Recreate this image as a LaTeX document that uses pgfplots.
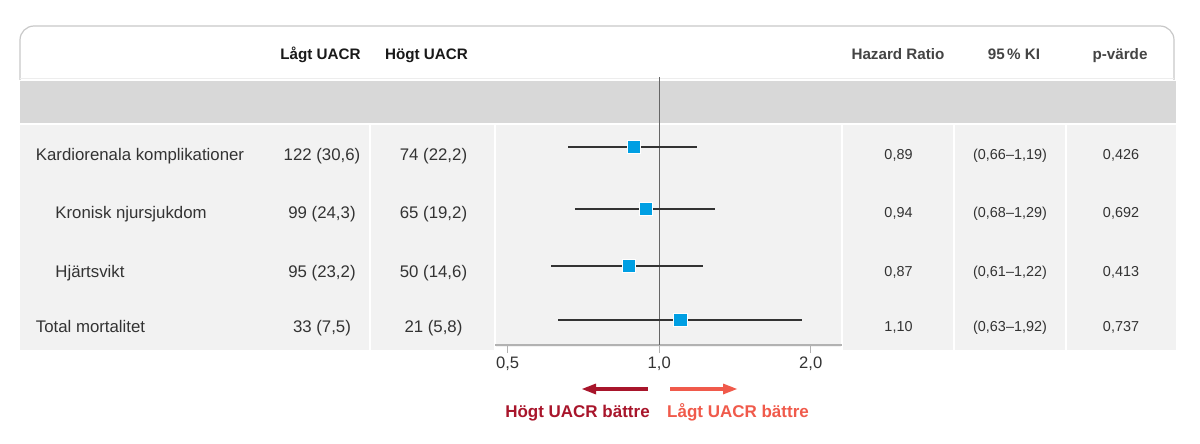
\documentclass[border=0pt]{standalone}
\usepackage{pgfplots}
\pgfplotsset{compat=1.18}
\usepackage{fontspec}
\setmainfont{Liberation Sans}
\definecolor{band}{HTML}{D8D8D8}
\definecolor{bodybg}{HTML}{F2F2F2}
\definecolor{hdrline}{HTML}{C8C8C8}
\definecolor{txt}{HTML}{333333}
\definecolor{hdrtxt}{HTML}{444444}
\definecolor{mk}{HTML}{009FE3}
\definecolor{darkred}{HTML}{A8152B}
\definecolor{salmon}{HTML}{F05A4B}
\begin{document}
\begin{tikzpicture}
\begin{scope}[x=0.5pt,y=-0.5pt]
\useasboundingbox (0,0) rectangle (1200,444);
\fill[band] (20,81) rectangle (1176,123);
\fill[bodybg] (20,125) rectangle (1176,350);
\foreach \xx in {370,495,842,954,1066} \fill[white] (\xx-1,125) rectangle (\xx+1,350);
\fill[white] (495,346.5) rectangle (842,351);
\draw[hdrline, line width=0.6pt, rounded corners=7pt] (20,80) -- (20,26) -- (1174,26) -- (1174,80);
\draw[black!7, line width=0.5pt] (20,79) -- (1174,79);
\end{scope}

\begin{axis}[
  at={(247.5pt,-172.5pt)}, anchor=south west,
  scale only axis, width=173.5pt, height=134pt,
  xmode=log, log basis x=2,
  xmin=0.472, xmax=2.307, ymin=-345, ymax=-77,
  axis x line*=bottom, hide y axis,
  x axis line style={draw=black!30, line width=0.6pt},
  xtick={0.5,1,2}, xticklabels={{0,5},{1,0},{2,0}},
  tick align=outside, major tick length=4pt,
  tick style={draw=black!30, line width=0.6pt},
  minor tick num=0,
  xticklabel style={font=\fontsize{8.3}{10}\selectfont, text=txt, anchor=base, yshift=-8pt},
  clip=false,
]
\addplot[draw=black!60, line width=0.55pt] coordinates {(1,-77) (1,-345)};
\addplot[draw=txt, line width=0.65pt] coordinates {(0.66,-147) (1.19,-147)};
\addplot[draw=txt, line width=0.65pt] coordinates {(0.68,-209) (1.29,-209)};
\addplot[draw=txt, line width=0.65pt] coordinates {(0.61,-266) (1.22,-266)};
\addplot[draw=txt, line width=0.65pt] coordinates {(0.63,-320) (1.92,-320)};
\addplot[only marks, mark=square*, mark size=3.4pt, mark options={fill=mk, draw=white, line width=0.3pt}]
  coordinates {(0.89,-147) (0.94,-209) (0.87,-266) (1.10,-320)};
\end{axis}

\begin{scope}[x=0.5pt,y=-0.5pt]
% header
\begin{scope}[every node/.style={font=\fontsize{7.6}{9}\selectfont\bfseries, anchor=base, inner sep=0pt}]
\node[text=black!90] at (320.5,60) {Lågt UACR};
\node[text=black!90] at (426.5,60) {Högt UACR};
\node[text=hdrtxt] at (898,60) {Hazard Ratio};
\node[text=hdrtxt] at (1014,60) {95\,\% KI};
\node[text=hdrtxt] at (1120,60) {p-värde};
\end{scope}
% body left
\begin{scope}[every node/.style={font=\fontsize{8.4}{10}\selectfont, text=txt, inner sep=0pt}]
\node[anchor=base west] at (35.5,160.7) {Kardiorenala komplikationer};
\node[anchor=base west] at (55,219) {Kronisk njursjukdom};
\node[anchor=base west] at (55,277) {Hjärtsvikt};
\node[anchor=base west] at (35.5,332) {Total mortalitet};
\node[anchor=base] at (322,160.7) {122 (30,6)};
\node[anchor=base] at (322,219) {99 (24,3)};
\node[anchor=base] at (322,277) {95 (23,2)};
\node[anchor=base] at (322,332) {33 (7,5)};
\node[anchor=base] at (433.5,160.7) {74 (22,2)};
\node[anchor=base] at (433.5,219) {65 (19,2)};
\node[anchor=base] at (433.5,277) {50 (14,6)};
\node[anchor=base] at (433.5,332) {21 (5,8)};
\end{scope}
% body right
\begin{scope}[every node/.style={font=\fontsize{7.2}{9}\selectfont, text=txt, inner sep=0pt, anchor=base}]
\node at (898.5,160) {0,89};
\node at (898.5,218) {0,94};
\node at (898.5,276) {0,87};
\node at (898.5,331) {1,10};
\node at (1010,160) {(0,66–1,19)};
\node at (1010,218) {(0,68–1,29)};
\node at (1010,276) {(0,61–1,22)};
\node at (1010,331) {(0,63–1,92)};
\node at (1121,160) {0,426};
\node at (1121,218) {0,692};
\node at (1121,276) {0,413};
\node at (1121,331) {0,737};
\end{scope}
% arrows
\fill[darkred] (648,387) rectangle (594,391);
\fill[darkred] (582,389) -- (596,383.5) -- (596,394.5) -- cycle;
\fill[salmon] (670,387) rectangle (724,391);
\fill[salmon] (737,389) -- (723,383.5) -- (723,394.5) -- cycle;
\node[font=\fontsize{8.5}{10}\selectfont\bfseries, text=darkred, anchor=base, inner sep=0pt] at (577.5,417) {Högt UACR bättre};
\node[font=\fontsize{8.5}{10}\selectfont\bfseries, text=salmon, anchor=base, inner sep=0pt] at (738,417) {Lågt UACR bättre};
\end{scope}
\end{tikzpicture}
\end{document}
